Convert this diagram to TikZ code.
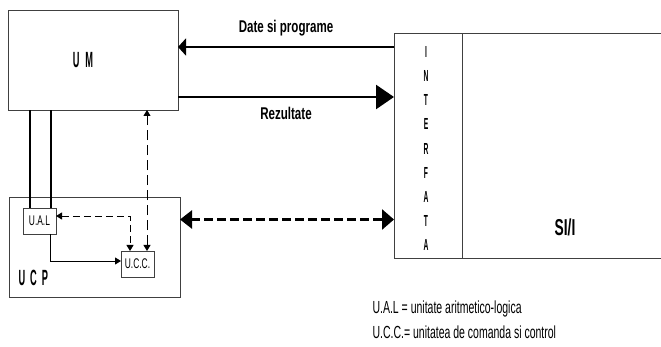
\documentclass[tikz,border=0pt]{standalone}
\usepackage{fontspec}
\setmainfont{Liberation Sans}
\newfontfamily\lblfont{Liberation Sans}[FakeStretch=0.6]
\newfontfamily\arrfont{Liberation Sans}[FakeStretch=0.68]
\newfontfamily\capfont{Liberation Sans}[FakeStretch=0.42]
\usetikzlibrary{arrows.meta, positioning, calc}

\begin{document}
\begin{tikzpicture}[x=1pt, y=-1pt,
    box/.style={draw=black!75, line width=0.9pt, inner sep=0pt, outer sep=0pt},
    bus/.style={line width=2.2pt},
    flow/.style={line width=0.9pt, -{Triangle[length=6pt,width=7pt]}},
    ctl/.style={line width=0.9pt, dash pattern=on 7pt off 4pt, {Triangle[length=6pt,width=7pt]}-{Triangle[length=6pt,width=7pt]}},
    big/.style={line width=2.6pt},
    ttl/.style={font=\capfont\bfseries\fontsize{22}{24}\selectfont},
    lbl/.style={font=\arrfont\bfseries\fontsize{17}{20}\selectfont},
    small/.style={font=\lblfont\fontsize{14}{16}\selectfont},
    leg/.style={font=\lblfont\fontsize{17.5}{20}\selectfont}]
  \useasboundingbox (0,0) rectangle (661,347);
  % unitati
  \node[box, minimum width=170pt, minimum height=100pt] (um) at (93,60) {};
  \node[ttl] (umlbl) at (83,60) {U\hspace{6pt}M};
  \node[box, minimum width=171pt, minimum height=100pt] (ucp) at (94.5,247) {};
  \node[ttl, anchor=west] (ucplbl) at (15,278) {U\hspace{5pt}C\hspace{5pt}P};
  \node[box, small, minimum width=33pt, minimum height=26pt] (ual) at (39.5,221) {U.A.L};
  \node[box, small, minimum width=33pt, minimum height=26pt] (ucc) at (137.5,264) {U.C.C.};

  % interfata si SI/I
  \node[box, minimum width=68pt, minimum height=225pt] (intf) at (428,145.5) {};
  \node[box, minimum width=201pt, minimum height=225pt, right=0pt of intf] (sio) {};
  \node[font=\capfont\bfseries\fontsize{16}{24.1}\selectfont, align=center] (intflbl) at (426,148.5)
    {I\\N\\T\\E\\R\\F\\A\\T\\A};
  \node[font=\lblfont\bfseries\fontsize{23}{26}\selectfont] (siolbl) at (565,227) {SI/I};

  % legaturi
  \coordinate (dp) at ([yshift=-14pt]intf.north west);
  \draw[line width=2.4pt, -{Triangle[length=8pt,width=17pt]}] (dp) -- (dp -| um.east)
    node[lbl, midway, above=6pt] {Date si programe};
  \coordinate (rz) at ([yshift=13pt]um.south east);
  \draw[line width=2.6pt, -{Triangle[length=18pt,width=24pt]}] (rz) -- (rz -| intf.west)
    node[lbl, midway, below=6pt] {Rezultate};

  \coordinate (b1) at ([xshift=7pt]ual.north west);
  \coordinate (b2) at ([xshift=-5pt]ual.north east);
  \draw[bus] (b1) -- (b1 |- um.south);
  \draw[bus] (b2) -- (b2 |- um.south);

  \draw[flow] ([xshift=-6pt]ual.south east) |- ([yshift=3pt]ucc.west);
  \draw[ctl] ([yshift=5pt]ual.east) -| ([xshift=-7.5pt]ucc.north);
  \coordinate (cv) at ([xshift=9.5pt]ucc.north);
  \draw[ctl, dash pattern=on 10pt off 5pt] (cv) -- (cv |- um.south);

  \coordinate (cp) at ([yshift=27.5pt]ucp.east);
  \draw[big, dash pattern=on 9pt off 4pt, {Triangle[length=12pt,width=18pt]}-{Triangle[length=12pt,width=20pt]}] (cp) -- (cp -| intf.west);

  % legenda
  \node[leg, anchor=west] (leg1) at (369,309) {U.A.L = unitate aritmetico-logica};
  \node[leg, anchor=west] (leg2) at (369,332) {U.C.C.= unitatea de comanda si control};
\end{tikzpicture}
\end{document}
